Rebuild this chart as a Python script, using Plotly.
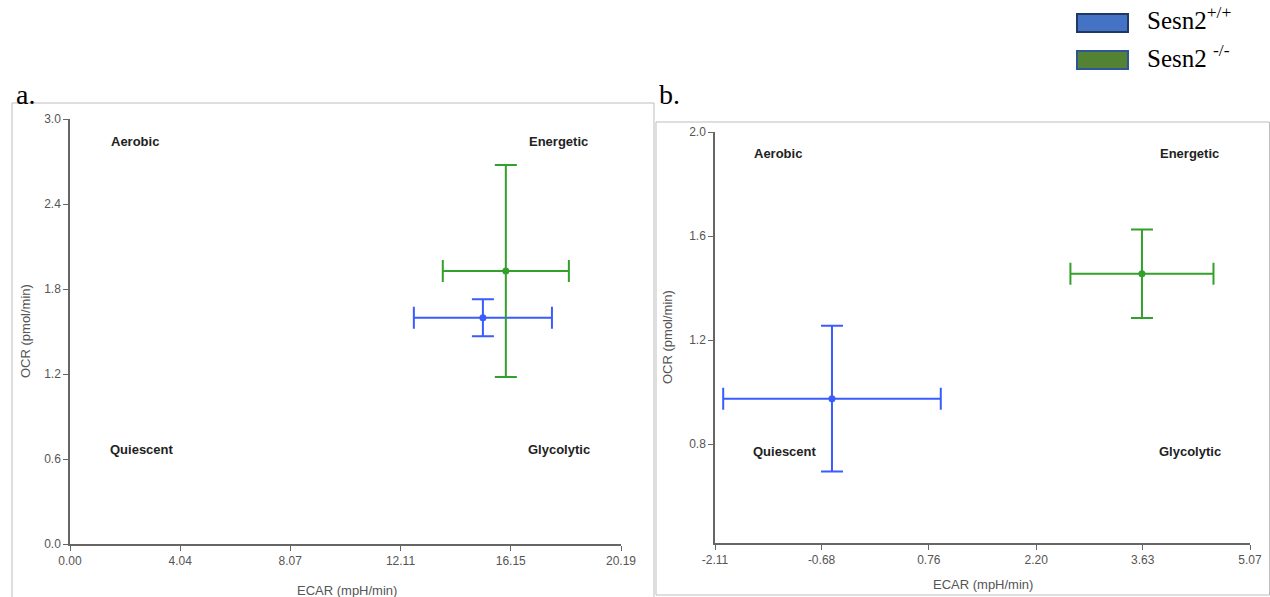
import plotly.graph_objects as go

W, H = 1270, 597

# ---- data -------------------------------------------------------------
groups = ["Sesn2+/+", "Sesn2-/-"]
colors = ["#3a5cff", "#34a02c"]

# panel a: mean ECAR / OCR with SEM
a_ecar = [15.13, 15.97]
a_ecar_err = [2.53, 2.31]
a_ocr = [1.597, 1.927]
a_ocr_err = [0.13, 0.748]

# panel b
b_ecar = [-0.54, 3.62]
b_ecar_err = [1.46, 0.96]
b_ocr = [0.975, 1.455]
b_ocr_err = [0.28, 0.17]

a_xticks = [0.00, 4.04, 8.07, 12.11, 16.15, 20.19]
a_yticks = [0.0, 0.6, 1.2, 1.8, 2.4, 3.0]
b_xticks = [-2.11, -0.68, 0.76, 2.20, 3.63, 5.07]
b_yticks = [0.8, 1.2, 1.6, 2.0]

quadrants = ["Aerobic", "Energetic", "Quiescent", "Glycolytic"]


def px(x):
    return x / W


def py(y):
    return 1 - y / H


fig = go.Figure()

for i, g in enumerate(groups):
    fig.add_trace(go.Scatter(
        x=[a_ecar[i]], y=[a_ocr[i]], mode="markers", name=g, showlegend=False,
        marker=dict(color=colors[i], size=7),
        error_x=dict(type="data", array=[a_ecar_err[i]], color=colors[i], thickness=2, width=11),
        error_y=dict(type="data", array=[a_ocr_err[i]], color=colors[i], thickness=2, width=11),
        xaxis="x", yaxis="y"))
    fig.add_trace(go.Scatter(
        x=[b_ecar[i]], y=[b_ocr[i]], mode="markers", name=g, showlegend=False,
        marker=dict(color=colors[i], size=7),
        error_x=dict(type="data", array=[b_ecar_err[i]], color=colors[i], thickness=2, width=11),
        error_y=dict(type="data", array=[b_ocr_err[i]], color=colors[i], thickness=2, width=11),
        xaxis="x2", yaxis="y2"))

axis_common = dict(showgrid=False, zeroline=False, showline=True, linecolor="#666",
                   linewidth=1.5, ticks="outside", ticklen=5, tickcolor="#666",
                   automargin=False,
                   tickfont=dict(family="Liberation Sans, Arial", size=12, color="#555"))

fig.update_layout(
    width=W, height=H, margin=dict(l=0, r=0, t=0, b=0, autoexpand=False),
    paper_bgcolor="white", plot_bgcolor="white", showlegend=False,
    xaxis=dict(domain=[px(70), px(621)], range=[0, 20.19], tickvals=a_xticks,
               ticktext=[f"{v:.2f}" for v in a_xticks], anchor="y", **axis_common),
    yaxis=dict(domain=[py(544), py(119)], range=[0, 3.0], tickvals=a_yticks,
               ticktext=[f"{v:.1f}" for v in a_yticks], anchor="x", **axis_common),
    xaxis2=dict(domain=[px(715), px(1250)], range=[-2.11, 5.07], tickvals=b_xticks,
                ticktext=[f"{v:.2f}" for v in b_xticks], anchor="y2", **axis_common),
    yaxis2=dict(domain=[py(543), py(132)], range=[0.42, 2.0], tickvals=b_yticks,
                ticktext=[f"{v:.1f}" for v in b_yticks], anchor="x2", **axis_common),
)

# panel frames
fig.add_shape(type="rect", xref="paper", yref="paper", x0=px(12), x1=px(654),
              y0=py(605), y1=py(103), line=dict(color="#bdbdbd", width=1), layer="below")
fig.add_shape(type="rect", xref="paper", yref="paper", x0=px(656), x1=px(1269.5),
              y0=py(595), y1=py(122), line=dict(color="#bdbdbd", width=1), layer="below")

ann = []
# quadrant labels (centre positions within each plot domain)
qpos = [(0.118, 0.948), (0.886, 0.948), (0.131, 0.222), (0.887, 0.222)]
for ax in ["", "2"]:
    for name, (qx, qy) in zip(quadrants, qpos):
        ann.append(dict(text=f"<b>{name}</b>", x=qx, y=qy, xref=f"x{ax} domain",
                        yref=f"y{ax} domain", xanchor="center", yanchor="middle",
                        showarrow=False,
                        font=dict(family="Liberation Sans, Arial", size=13, color="#222")))

# axis titles
title_font = dict(family="Liberation Sans, Arial", size=13, color="#555")
centered = dict(xref="paper", yref="paper", xanchor="center", yanchor="middle",
                showarrow=False)
ann += [
    dict(text="ECAR (mpH/min)", x=px(347), y=py(590), font=title_font, **centered),
    dict(text="OCR (pmol/min)", x=px(25), y=py(331), textangle=-90, font=title_font,
         **centered),
    dict(text="ECAR (mpH/min)", x=px(983), y=py(584), font=title_font, **centered),
    dict(text="OCR (pmol/min)", x=px(667), y=py(337), textangle=-90, font=title_font,
         **centered),
]

# panel letters
serif = "Liberation Serif, Times New Roman"
ann += [
    dict(text="a.", x=px(25), y=py(95), font=dict(family=serif, size=28, color="#000"),
         **centered),
    dict(text="b.", x=px(669), y=py(95), font=dict(family=serif, size=28, color="#000"),
         **centered),
]

# legend
legend_fill = ["#4472c4", "#548235"]
legend_edge = ["#203864", "#2f5597"]
legend_text = ["Sesn2<sup>+/+</sup>", "Sesn2 <sup>-/-</sup>"]
for i in range(2):
    top = 14 + i * 37
    fig.add_shape(type="rect", xref="paper", yref="paper", x0=px(1077), x1=px(1128),
                  y0=py(top + 18), y1=py(top), fillcolor=legend_fill[i],
                  line=dict(color=legend_edge[i], width=2))
    ann.append(dict(text=legend_text[i], x=px(1145), y=py(top + 22.5), xref="paper",
                    yref="paper", xanchor="left", yanchor="bottom", showarrow=False,
                    font=dict(family=serif, size=25, color="#000")))

fig.update_layout(annotations=ann)
fig.write_html("out.html")
